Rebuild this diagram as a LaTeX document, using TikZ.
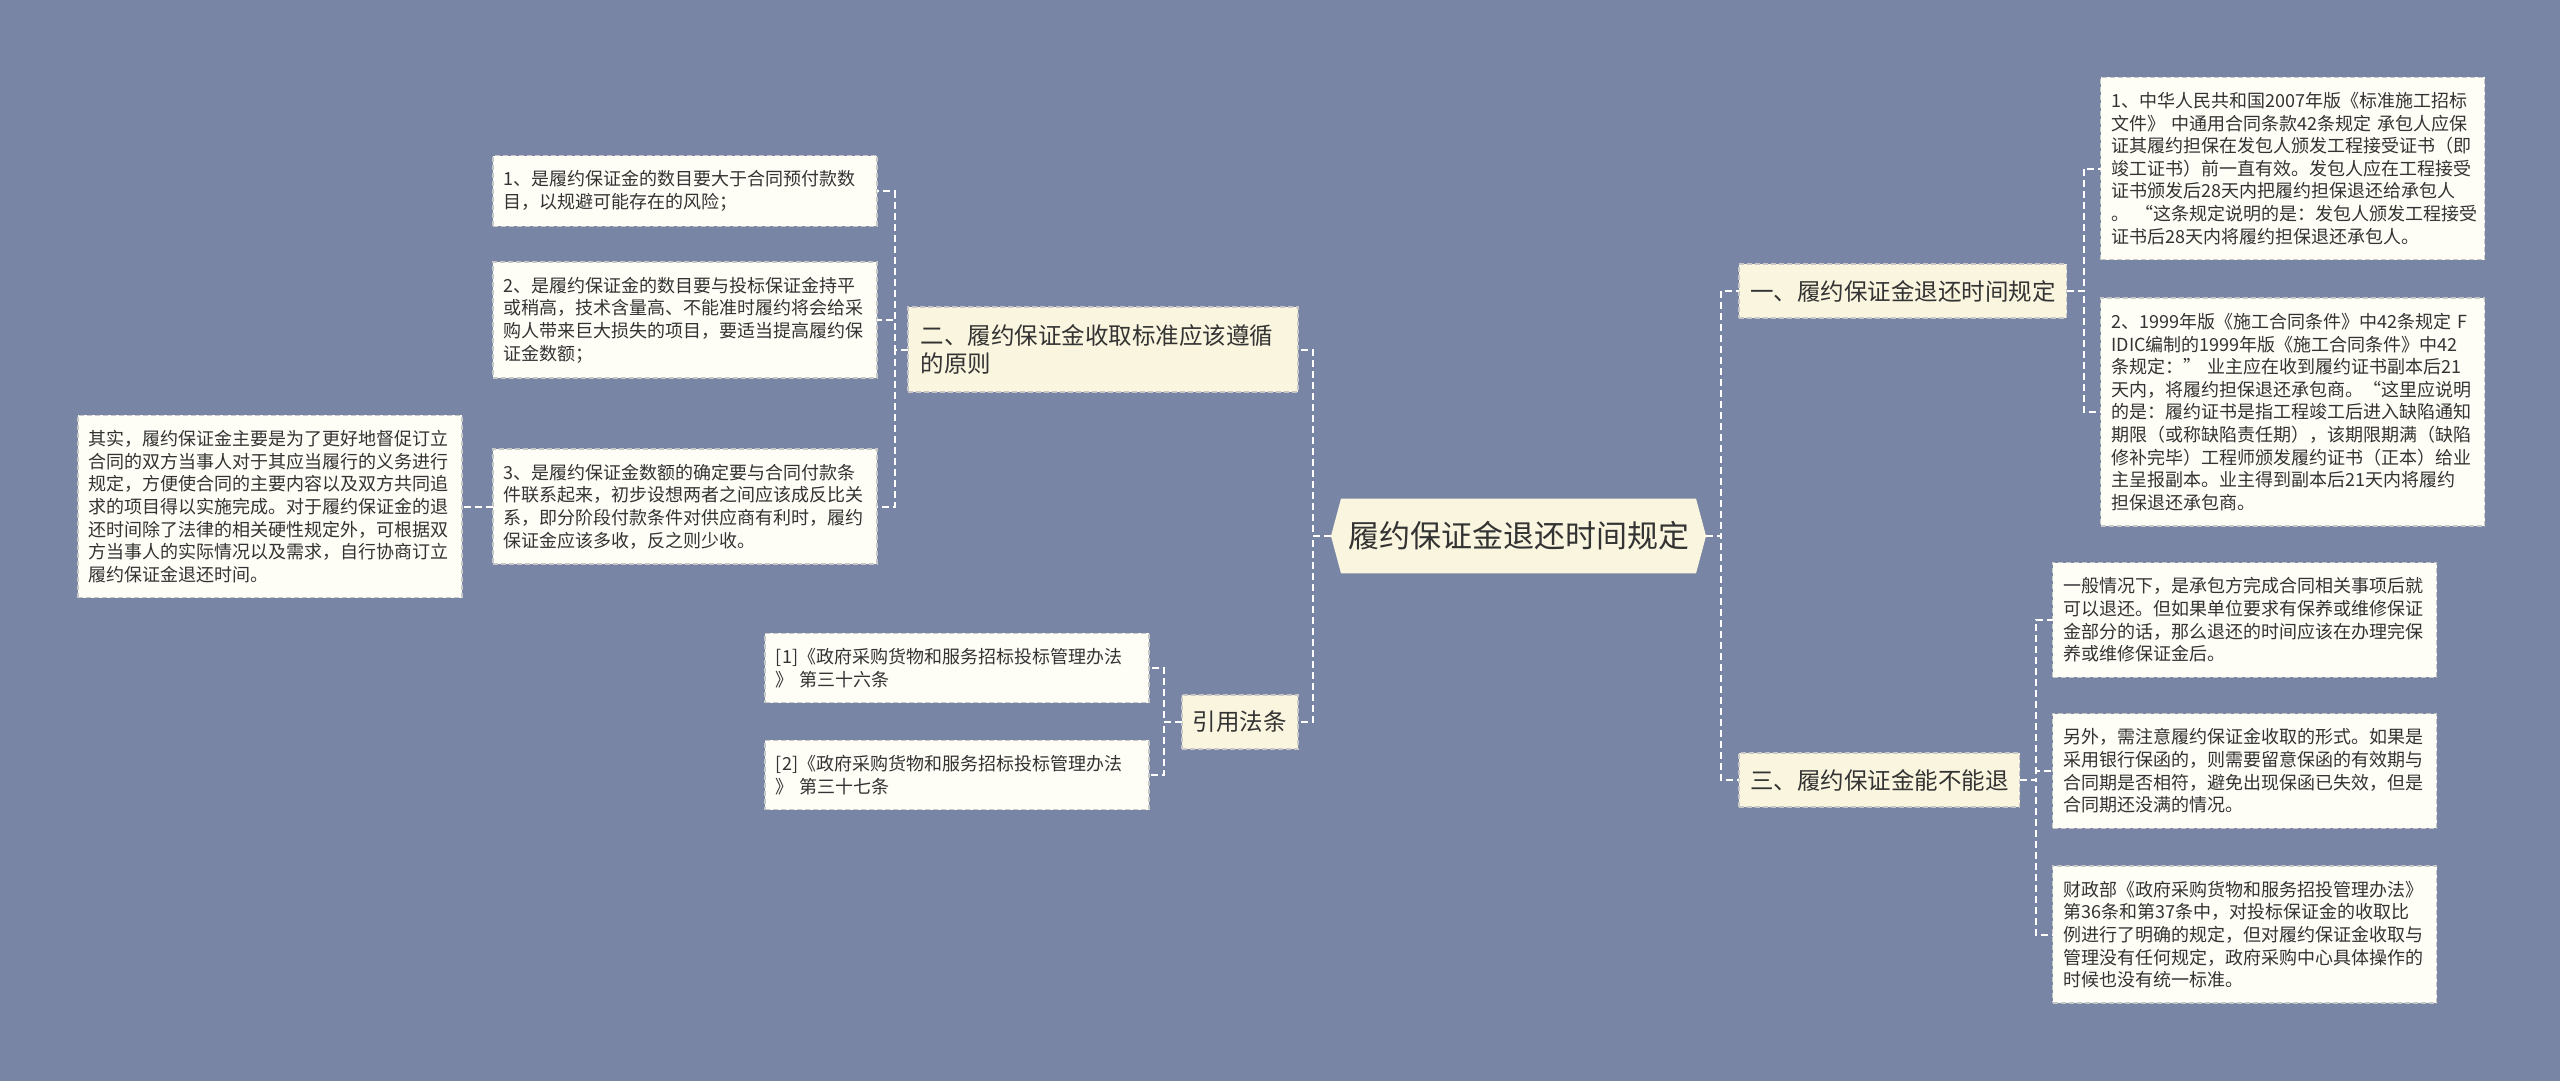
\documentclass[tikz,border=0pt]{standalone}
\usepackage{fontspec}
\setmainfont{Noto Sans CJK SC}
\usetikzlibrary{positioning,shapes.symbols}

\definecolor{bgblue}{HTML}{7885A4}
\definecolor{cream}{HTML}{FAF5DF}
\definecolor{paper}{HTML}{FEFDF6}
\definecolor{ink}{HTML}{333333}

\tikzset{
  root/.style={signal, signal to=west and east, signal pointer angle=150,
    fill=cream, text=ink, font=\fontsize{31}{36}\selectfont,
    inner xsep=7pt, inner ysep=23pt, outer sep=0pt},
  topic/.style={draw=black!22, line width=1.5pt, dash pattern=on 5pt off 3pt,
    fill=cream, text=ink, font=\fontsize{23.5}{28}\selectfont,
    minimum height=54pt, inner xsep=11pt, inner ysep=8pt, outer sep=0pt},
  leaf/.style={draw=black!22, line width=1.5pt, dash pattern=on 5pt off 3pt,
    fill=paper, text=ink, font=\fontsize{18}{22.6}\selectfont,
    text width=362pt, align=left, inner xsep=11pt, inner ysep=15pt, outer sep=0pt},
  link/.style={draw=white, line width=2pt, dash pattern=on 7pt off 4pt},
  fork/.style={to path={-- ++(#1,0) |- (\tikztotarget)}}
}

\begin{document}
\begin{tikzpicture}
   \useasboundingbox (0,0) rectangle (2560pt,-1081pt);
   \fill[bgblue] (0,0) rectangle (2560pt,-1081pt);

   \node[root] (center) at (1518.5pt,-536pt) {履约保证金退还时间规定};

   \node[topic] (b1) [right=33pt of center, yshift=245pt] {一、履约保证金退还时间规定};
   \node[topic] (b3) [right=33pt of center, yshift=-244pt] {三、履约保证金能不能退};
   \node[topic, text width=364pt, align=left, inner xsep=13pt, minimum height=85pt] (b2) [left=33pt of center, yshift=186.5pt] {二、履约保证金收取标准应该遵循\\的原则};
   \node[topic] (ref) [left=33pt of center, yshift=-186pt] {引用法条};

   \node[leaf] (a1) [right=34pt of b1, yshift=122.5pt] {1、中华人民共和国2007年版《标准施工招标\\文件》 中通用合同条款42条规定 承包人应保\\证其履约担保在发包人颁发工程接受证书（即\\竣工证书）前一直有效。发包人应在工程接受\\证书颁发后28天内把履约担保退还给承包人\\。 “这条规定说明的是：发包人颁发工程接受\\证书后28天内将履约担保退还承包人。};
   \node[leaf] (a2) [right=34pt of b1, yshift=-121pt] {2、1999年版《施工合同条件》中42条规定 F\\IDIC编制的1999年版《施工合同条件》中42\\条规定：” 业主应在收到履约证书副本后21\\天内，将履约担保退还承包商。“这里应说明\\的是：履约证书是指工程竣工后进入缺陷通知\\期限（或称缺陷责任期），该期限期满（缺陷\\修补完毕）工程师颁发履约证书（正本）给业\\主呈报副本。业主得到副本后21天内将履约\\担保退还承包商。};

   \node[leaf] (c1) [right=33pt of b3, yshift=160pt] {一般情况下，是承包方完成合同相关事项后就\\可以退还。但如果单位要求有保养或维修保证\\金部分的话，那么退还的时间应该在办理完保\\养或维修保证金后。};
   \node[leaf] (c2) [right=33pt of b3, yshift=9pt] {另外，需注意履约保证金收取的形式。如果是\\采用银行保函的，则需要留意保函的有效期与\\合同期是否相符，避免出现保函已失效，但是\\合同期还没满的情况。};
   \node[leaf] (c3) [right=33pt of b3, yshift=-154.5pt] {财政部《政府采购货物和服务招投管理办法》\\第36条和第37条中，对投标保证金的收取比\\例进行了明确的规定，但对履约保证金收取与\\管理没有任何规定，政府采购中心具体操作的\\时候也没有统一标准。};

   \node[leaf] (d1) [left=31pt of b2, yshift=158.5pt] {1、是履约保证金的数目要大于合同预付款数\\目，以规避可能存在的风险；};
   \node[leaf] (d2) [left=31pt of b2, yshift=29.5pt] {2、是履约保证金的数目要与投标保证金持平\\或稍高，技术含量高、不能准时履约将会给采\\购人带来巨大损失的项目，要适当提高履约保\\证金数额；};
   \node[leaf] (d3) [left=31pt of b2, yshift=-157pt] {3、是履约保证金数额的确定要与合同付款条\\件联系起来，初步设想两者之间应该成反比关\\系，即分阶段付款条件对供应商有利时，履约\\保证金应该多收，反之则少收。};
   \node[leaf] (e) [left=31pt of d3] {其实，履约保证金主要是为了更好地督促订立\\合同的双方当事人对于其应当履行的义务进行\\规定，方便使合同的主要内容以及双方共同追\\求的项目得以实施完成。对于履约保证金的退\\还时间除了法律的相关硬性规定外，可根据双\\方当事人的实际情况以及需求，自行协商订立\\履约保证金退还时间。};

   \node[leaf] (r1) [left=33pt of ref, yshift=54pt] {[1]《政府采购货物和服务招标投标管理办法\\》 第三十六条};
   \node[leaf] (r2) [left=33pt of ref, yshift=-53pt] {[2]《政府采购货物和服务招标投标管理办法\\》 第三十七条};

    \path[link]
    (center.east)
        edge [fork=15pt] (b1.west)
        edge [fork=15pt] (b3.west)
    (center.west)
        edge [fork=-18pt] (b2.east)
        edge [fork=-18pt] (ref.east)
    (b1.east)
        edge [fork=17pt] (a1.west)
        edge [fork=17pt] (a2.west)
    (b3.east)
        edge [fork=16pt] (c1.west)
        edge [fork=16pt] (c2.west)
        edge [fork=16pt] (c3.west)
    (b2.west)
        edge [fork=-13pt] (d1.east)
        edge [fork=-13pt] (d2.east)
        edge [fork=-13pt] (d3.east)
    (d3.west)
        edge (e.east)
    (ref.west)
        edge [fork=-18pt] (r1.east)
        edge [fork=-18pt] (r2.east);
\end{tikzpicture}
\end{document}
